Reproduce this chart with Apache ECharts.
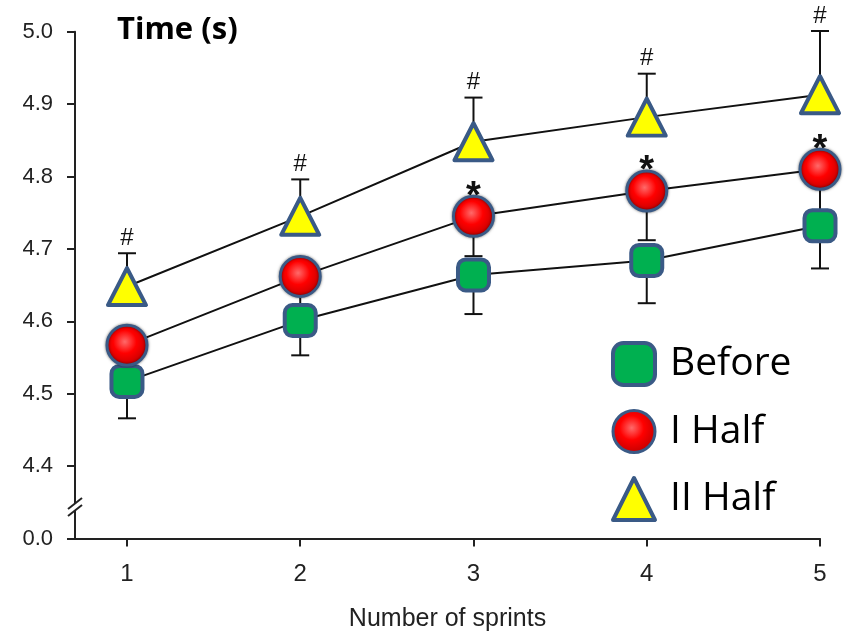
<!DOCTYPE html>
<html><head><meta charset="utf-8">
<script src="https://cdn.jsdelivr.net/npm/echarts@6/dist/echarts.min.js"></script>
<style>html,body{margin:0;padding:0;background:#fff}#c{width:848px;height:632px}</style>
</head><body><div id="c"></div>
<script>
// ---- data ----
const sprints = [1, 2, 3, 4, 5];
const beforeMean = [4.517, 4.601, 4.664, 4.684, 4.732];
const beforeErr  = [0.051, 0.048, 0.054, 0.059, 0.059];
const iHalfMean  = [4.567, 4.662, 4.745, 4.780, 4.810];
const iHalfErr   = [0.045, 0.045, 0.055, 0.068, 0.070];
const iiHalfMean = [4.648, 4.745, 4.848, 4.882, 4.913];
const iiHalfErr  = [0.046, 0.051, 0.061, 0.060, 0.088];
const iHalfSig   = ['', '', '*', '*', '*'];
const iiHalfSig  = ['#', '#', '#', '#', '#'];
const seriesNames = ['Before', 'I Half', 'II Half'];
const yBottomLabel = '0.0';

const BORDER = '#3a5a86';
const redGrad = {type: 'radial', x: 0.45, y: 0.42, r: 0.6, colorStops: [
  {offset: 0, color: '#ff6a6a'}, {offset: 0.45, color: '#ff0000'}, {offset: 0.85, color: '#d00000'}, {offset: 1, color: '#6a1010'}]};

const chart = echarts.init(document.getElementById('c'), null, {renderer: 'canvas'});

function errSeries(means, errs, dir, sig, sigMode) {
  return {
    type: 'custom', z: 1, silent: true,
    data: sprints.map((x, i) => [x, means[i], errs[i]]),
    renderItem(params, api) {
      const i = params.dataIndex;
      const x = api.value(0), m = api.value(1), e = api.value(2);
      const p0 = api.coord([x, m]);
      const p1 = api.coord([x, m + dir * e]);
      const st = {stroke: '#111', lineWidth: 2};
      const children = [
        {type: 'line', shape: {x1: p0[0], y1: p0[1], x2: p1[0], y2: p1[1]}, style: st},
        {type: 'line', shape: {x1: p1[0] - 9, y1: p1[1], x2: p1[0] + 9, y2: p1[1]}, style: st}
      ];
      const s = sig[i];
      if (s) {
        if (sigMode === 'cap') {
          children.push({type: 'text', x: p1[0], y: p1[1] - 15, style: {text: s, fontSize: 24, fontFamily: 'Liberation Sans', fill: '#111', align: 'center', verticalAlign: 'middle'}});
        } else {
          children.push({type: 'text', x: p0[0], y: p0[1] - 19, z2: 10, style: {text: s, fontSize: 38, fontFamily: 'Liberation Sans', fontWeight: 'bold', fill: '#111', align: 'center', verticalAlign: 'middle'}});
        }
      }
      return {type: 'group', children};
    }
  };
}

const lineBase = {type: 'line', z: 3, lineStyle: {color: '#111', width: 2}, itemStyle: {borderColor: BORDER, borderWidth: 4}, emphasis: {disabled: true}, animation: false};

const option = {
  animation: false,
  grid: {left: 75, right: 28, top: 31.7, bottom: 93.5, outerBoundsMode: 'none', containLabel: false},
  title: {text: 'Time (s)', left: 112, top: 10, textStyle: {fontFamily: 'Open Sans', fontWeight: 'bold', fontSize: 31, color: '#000'}},
  legend: {
    orient: 'vertical', left: 606, top: 336, itemWidth: 42, itemHeight: 42, itemGap: 22,
    textStyle: {fontFamily: 'Open Sans', fontSize: 39, color: '#000', padding: [0, 0, 0, 10]},
    data: [
      {name: seriesNames[0], icon: 'roundRect', itemStyle: {color: '#00b050', borderColor: BORDER, borderWidth: 4}},
      {name: seriesNames[1], icon: 'circle', itemStyle: {color: redGrad, borderColor: BORDER, borderWidth: 3}},
      {name: seriesNames[2], icon: 'triangle', itemStyle: {color: '#ffff00', borderColor: BORDER, borderWidth: 4}}
    ]
  },
  xAxis: {
    type: 'value', min: 0.7, max: 5,
    name: 'Number of sprints', nameLocation: 'middle', nameGap: 68,
    nameTextStyle: {fontFamily: 'Liberation Sans', fontSize: 25, color: '#222'},
    axisLine: {lineStyle: {color: '#222', width: 2}},
    axisTick: {customValues: sprints, length: 8, lineStyle: {color: '#222', width: 2}},
    axisLabel: {customValues: sprints, margin: 24, fontFamily: 'Liberation Sans', fontSize: 24, color: '#222'},
    splitLine: {show: false}
  },
  yAxis: {
    type: 'value', min: 4.3, max: 5.0, interval: 0.1,
    axisLine: {show: true, lineStyle: {color: '#222', width: 2}},
    axisTick: {show: true, length: 8, lineStyle: {color: '#222', width: 2}},
    axisLabel: {margin: 22, fontFamily: 'Liberation Sans', fontSize: 22, color: '#222',
      formatter: v => v < 4.35 ? yBottomLabel : v.toFixed(1)},
    splitLine: {show: false}
  },
  series: [
    errSeries(beforeMean, beforeErr, -1, ['', '', '', '', ''], 'none'),
    errSeries(iHalfMean, iHalfErr, -1, iHalfSig, 'marker'),
    errSeries(iiHalfMean, iiHalfErr, 1, iiHalfSig, 'cap'),
    Object.assign({}, lineBase, {name: seriesNames[0], symbol: 'roundRect', symbolSize: 31,
      itemStyle: {color: '#00b050', borderColor: BORDER, borderWidth: 4},
      data: sprints.map((x, i) => [x, beforeMean[i]])}),
    Object.assign({}, lineBase, {name: seriesNames[1], symbol: 'circle', symbolSize: 40,
      itemStyle: {color: redGrad, borderColor: BORDER, borderWidth: 3, shadowBlur: 3, shadowColor: 'rgba(0,0,0,0.5)'},
      data: sprints.map((x, i) => [x, iHalfMean[i]])}),
    Object.assign({}, lineBase, {name: seriesNames[2], symbol: 'triangle', symbolSize: [38, 37],
      itemStyle: {color: '#ffff00', borderColor: BORDER, borderWidth: 4, borderJoin: 'round'},
      data: sprints.map((x, i) => [x, iiHalfMean[i]])})
  ]
};
chart.setOption(option);

// axis break mark on the y axis, placed through the axis scales
const yb = chart.convertToPixel({yAxisIndex: 0}, 4.345);
const xa = chart.convertToPixel({xAxisIndex: 0}, 0.7);
chart.setOption({graphic: [
  {type: 'polygon', z: 100, shape: {points: [[xa - 9, yb + 3], [xa + 9, yb - 9], [xa + 9, yb - 2], [xa - 9, yb + 10]]}, style: {fill: '#fff'}},
  {type: 'line', z: 101, shape: {x1: xa - 7, y1: yb + 3, x2: xa + 7, y2: yb - 8}, style: {stroke: '#222', lineWidth: 2}},
  {type: 'line', z: 101, shape: {x1: xa - 7, y1: yb + 10, x2: xa + 7, y2: yb - 1}, style: {stroke: '#222', lineWidth: 2}}
]});
</script></body></html>
